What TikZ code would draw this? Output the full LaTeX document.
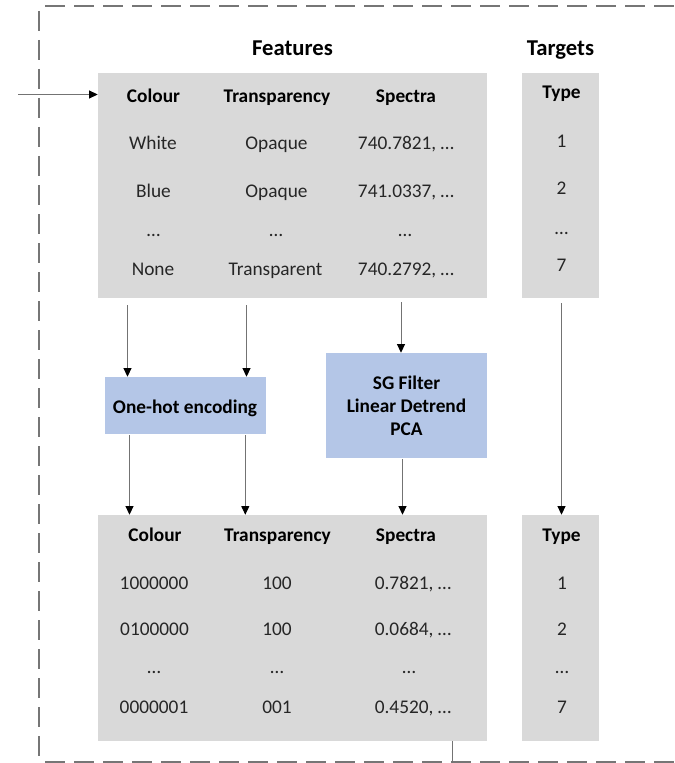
\documentclass[tikz,border=0pt]{standalone}
\usepackage{fontspec}
\setmainfont{Carlito}
\usetikzlibrary{arrows.meta,fit}
\definecolor{boxgray}{HTML}{D9D9D9}
\definecolor{boxblue}{HTML}{B4C6E7}
\definecolor{framegray}{HTML}{767676}
\definecolor{txt}{HTML}{262626}
\begin{document}
\begin{tikzpicture}[x=0.75pt,y=-0.75pt,
  gbox/.style={fill=boxgray, draw=none, inner sep=0pt},
  bbox/.style={fill=boxblue, draw=none, inner sep=0pt},
  cell/.style={anchor=base, inner sep=0pt, text=txt, font=\fontsize{14.5}{17}\selectfont},
  hcell/.style={anchor=base, inner sep=0pt, text=black, font=\fontsize{14.5}{17.25}\selectfont\bfseries},
  ttl/.style={anchor=base, inner sep=0pt, text=black, font=\fontsize{17}{20}\selectfont\bfseries},
  arr/.style={draw=black!55, line width=0.7pt, -{Triangle[length=6.5pt,width=6pt,color=black]}},
  plainline/.style={draw=black!55, line width=0.7pt},
  frameline/.style={draw=framegray, line width=1.5pt, dash pattern=on 15pt off 6.75pt}
]
\useasboundingbox (0,0) rectangle (674,763);

% dashed frame
\draw[frameline] (45,6) -- (674,6);
\draw[frameline] (39,11) -- (39,763);
\draw[frameline] (45,762) -- (674,762);

% boxes
\node[gbox, fit={(98,73)(487,298)}] (tf) {};
\node[gbox, fit={(522,73)(599,298)}] (tt) {};
\node[bbox, fit={(105,377)(266,434)}] (oh) {};
\node[bbox, fit={(326,353)(487,458)}] (sg) {};
\node[gbox, fit={(98,515)(487,741)}] (bf) {};
\node[gbox, fit={(522,515)(599,741)}] (bt) {};

% titles
\node[ttl] (ftitle) at (292.5,55.5) {Features};
\node[ttl] (ttitle) at (560.5,55.5) {Targets};

% top table
\node[hcell] (th1) at (153.5,102.3) {Colour};
\node[hcell] (th2) at (277,102.3) {Transparency};
\node[hcell] (th3) at (406,102.3) {Spectra};
\node[hcell] (th4) at (561.5,98.5) {Type};

\node[cell] (t11) at (153,150) {White};
\node[cell] (t12) at (276.5,150) {Opaque};
\node[cell] (t13) at (406,150) {740.7821, …};
\node[cell] (t21) at (153.5,197.5) {Blue};
\node[cell] (t22) at (276.5,197.5) {Opaque};
\node[cell] (t23) at (406,197.5) {741.0337, …};
\node[cell] (t31) at (153.5,236) {…};
\node[cell] (t32) at (276,236) {…};
\node[cell] (t33) at (405,236) {…};
\node[cell] (t41) at (153,275) {None};
\node[cell] (t42) at (275.5,275) {Transparent};
\node[cell] (t43) at (406,275) {740.2792, …};

\node[cell] (tt1) at (561.5,147) {1};
\node[cell] (tt2) at (561.5,194) {2};
\node[cell] (tt3) at (561.5,234) {…};
\node[cell] (tt4) at (561.5,271) {7};

% processing boxes text
\node[hcell] (ohtxt) at (185,413) {One-hot encoding};
\node[hcell, anchor=center, align=center] (sgtxt) at (sg.center) {SG Filter\\Linear Detrend\\PCA};

% bottom table
\node[hcell] (bh1) at (155,541) {Colour};
\node[hcell] (bh2) at (277.5,541) {Transparency};
\node[hcell] (bh3) at (406,541) {Spectra};
\node[hcell] (bh4) at (561.5,541) {Type};

\node[cell] (b11) at (154,589) {1000000};
\node[cell] (b12) at (277,589) {100};
\node[cell] (b13) at (413,589) {0.7821, …};
\node[cell] (b21) at (154.5,635) {0100000};
\node[cell] (b22) at (277,635) {100};
\node[cell] (b23) at (413,635) {0.0684, …};
\node[cell] (b31) at (154,673) {…};
\node[cell] (b32) at (277,673) {…};
\node[cell] (b33) at (409,673) {…};
\node[cell] (b41) at (154,713) {0000001};
\node[cell] (b42) at (277,713) {001};
\node[cell] (b43) at (413,713) {0.4520, …};

\node[cell] (bt1) at (562,589) {1};
\node[cell] (bt2) at (562,635) {2};
\node[cell] (bt3) at (562,673) {…};
\node[cell] (bt4) at (562,713) {7};

% connector x positions
\coordinate (xa1) at (127.5,0);
\coordinate (xa2) at (246.5,0);
\coordinate (xa3) at (401,0);
\coordinate (xa4) at (561.5,0);
\coordinate (xb1) at (129.5,0);
\coordinate (xb2) at (245.3,0);
\coordinate (xb3) at (402.5,0);
\coordinate (inp) at (18,94.5);
\coordinate (outend) at (452.5,763);

% connectors
\draw[arr] (inp) -- (tf.west |- inp);
\draw[arr, shorten <=5.25pt] (tf.south -| xa1) -- (oh.north -| xa1);
\draw[arr, shorten <=5.25pt] (tf.south -| xa2) -- (oh.north -| xa2);
\draw[arr, shorten <=3pt] (tf.south -| xa3) -- (sg.north -| xa3);
\draw[arr, shorten <=3.75pt] (tt.south -| xa4) -- (bt.north -| xa4);
\draw[arr, shorten <=0.75pt] (oh.south -| xb1) -- (bf.north -| xb1);
\draw[arr, shorten <=0.75pt] (oh.south -| xb2) -- (bf.north -| xb2);
\draw[arr, shorten <=0.75pt] (sg.south -| xb3) -- (bf.north -| xb3);
\draw[plainline] (bf.south -| outend) -- (outend);
\end{tikzpicture}
\end{document}
